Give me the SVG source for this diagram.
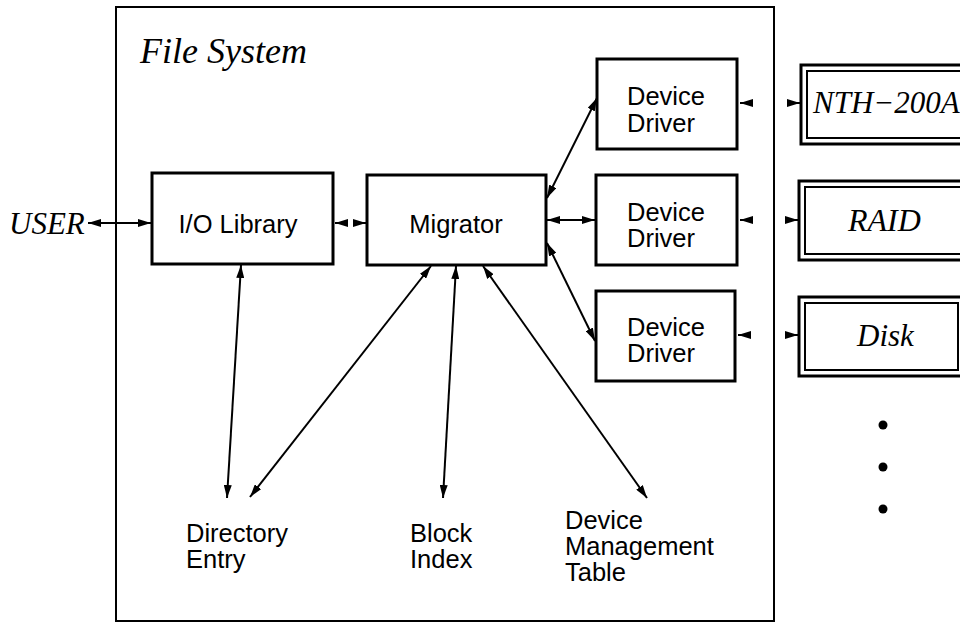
<svg xmlns="http://www.w3.org/2000/svg" width="960" height="623" viewBox="0 0 960 623">
<defs>
<marker id="ah" markerUnits="userSpaceOnUse" markerWidth="13" markerHeight="8" refX="13" refY="4" orient="auto-start-reverse">
<path d="M0,0 L13,4 L0,8 z" fill="#000"/>
</marker>
<style>
.box{fill:#fff;stroke:#000;stroke-width:3}
.outer{fill:none;stroke:#000;stroke-width:2}
.dev{fill:#fff;stroke:#000;stroke-width:3}
.devin{fill:none;stroke:#000;stroke-width:2}
.sans{font-family:"Liberation Sans",Arial,sans-serif;font-size:25.5px;fill:#000}
.ser{font-family:"Liberation Serif","Times New Roman",serif;font-style:italic;fill:#000}
.c{stroke:#000;stroke-width:2;fill:none}
.ar{marker-start:url(#ah);marker-end:url(#ah)}
.ae{marker-end:url(#ah)}
</style>
</defs>
<g id="filesystem">
<rect class="outer" x="116" y="7" width="658" height="614"/>
<text class="ser" x="140" y="63" font-size="36">File System</text>
</g>
<g id="user"><text class="ser" x="9" y="234" font-size="31">USER</text></g>
<g id="iolib"><rect class="box" x="152" y="173" width="181" height="91"/><text class="sans" x="238" y="233" text-anchor="middle" font-size="26">I/O Library</text></g>
<g id="migrator"><rect class="box" x="367" y="175" width="179" height="90"/><text class="sans" x="456" y="233" text-anchor="middle">Migrator</text></g>
<g id="dd1"><rect class="box" x="597" y="59" width="140" height="90"/><text class="sans" x="627" y="105">Device</text><text class="sans" x="627" y="132">Driver</text></g>
<g id="dd2"><rect class="box" x="596" y="175" width="141" height="90"/><text class="sans" x="627" y="221">Device</text><text class="sans" x="627" y="247">Driver</text></g>
<g id="dd3"><rect class="box" x="596" y="291" width="139" height="90"/><text class="sans" x="627" y="336">Device</text><text class="sans" x="627" y="362">Driver</text></g>
<g id="nth"><rect class="dev" x="801" y="65" width="200" height="79"/><rect class="devin" x="807" y="71" width="200" height="67"/><text class="ser" x="813" y="113" font-size="31">NTH−200A</text></g>
<g id="raid"><rect class="dev" x="799" y="181" width="200" height="79"/><rect class="devin" x="805" y="187" width="200" height="67"/><text class="ser" x="848" y="231" font-size="32">RAID</text></g>
<g id="disk"><rect class="dev" x="799" y="297" width="200" height="79"/><rect class="devin" x="805" y="303" width="153" height="67"/><text class="ser" x="857" y="346" font-size="31">Disk</text></g>
<g id="dots"><circle cx="883" cy="425" r="4.5"/><circle cx="883" cy="467" r="4.5"/><circle cx="883" cy="509" r="4.5"/></g>
<g id="direntry"><text class="sans" x="186" y="542">Directory</text><text class="sans" x="186" y="568">Entry</text></g>
<g id="blockindex"><text class="sans" x="410" y="542">Block</text><text class="sans" x="410" y="568">Index</text></g>
<g id="dmt"><text class="sans" x="565" y="529">Device</text><text class="sans" x="565" y="555">Management</text><text class="sans" x="565" y="581">Table</text></g>
<g id="connectors">
<line class="c ar" x1="88" y1="223" x2="151" y2="223"/>
<line class="c ae" x1="347" y1="223" x2="335" y2="223"/>
<line class="c ae" x1="354" y1="223" x2="366" y2="223"/>
<line class="c ar" x1="547" y1="220" x2="595" y2="220"/>
<line class="c ar" x1="547" y1="198" x2="597" y2="98"/>
<line class="c ar" x1="547" y1="243" x2="595" y2="341"/>
<line class="c ae" x1="751" y1="103" x2="740" y2="103"/>
<line class="c ae" x1="789" y1="103" x2="800" y2="103"/>
<line class="c ae" x1="751" y1="220" x2="740" y2="220"/>
<line class="c ae" x1="787" y1="220" x2="798" y2="220"/>
<line class="c ae" x1="749" y1="335" x2="738" y2="335"/>
<line class="c ae" x1="787" y1="335" x2="798" y2="335"/>
<line class="c ar" x1="241" y1="265" x2="227" y2="498"/>
<line class="c ar" x1="431" y1="266" x2="250" y2="497"/>
<line class="c ar" x1="456" y1="266" x2="443" y2="498"/>
<line class="c ar" x1="483" y1="266" x2="647" y2="498"/>
</g>
</svg>
